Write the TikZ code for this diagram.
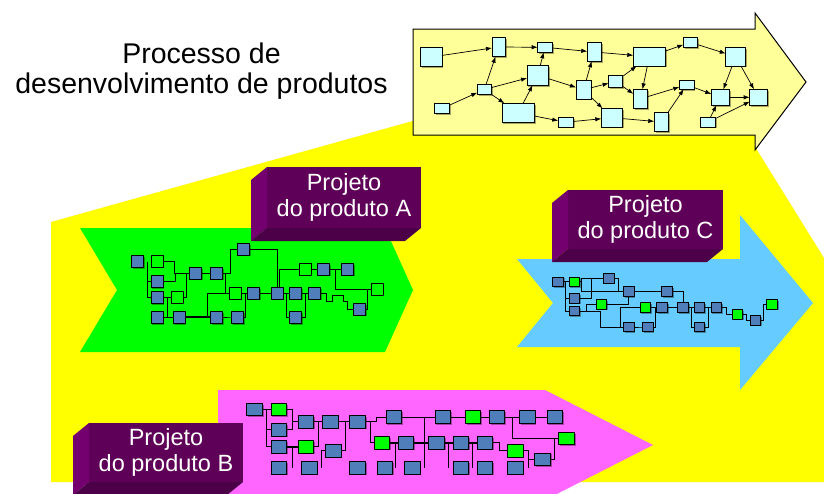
\documentclass[tikz,border=0pt]{standalone}
\usepackage{fontspec}
\setmainfont{Liberation Sans}
\usetikzlibrary{arrows.meta,calc,shadows}
\definecolor{bgyellow}{HTML}{FFFF00}
\definecolor{procfill}{HTML}{FFFF99}
\definecolor{cyanbox}{HTML}{CCFFFF}
\definecolor{arrA}{HTML}{00FF00}
\definecolor{arrC}{HTML}{66CCFF}
\definecolor{arrB}{HTML}{FF66FF}
\definecolor{boxblue}{HTML}{4F7EBA}
\definecolor{boxgreen}{HTML}{00FF00}
\definecolor{lblfront}{HTML}{5F0058}
\definecolor{lblside}{HTML}{740070}
\definecolor{lblbottom}{HTML}{4B0047}
\tikzset{
  pbox/.style={draw=black, fill=cyanbox, line width=0.8pt, inner sep=0pt, outer sep=0pt,
    drop shadow={shadow xshift=1.3pt, shadow yshift=-1.3pt, fill=black, opacity=0.35}},
  parr/.style={draw=black, line width=0.7pt, -{Latex[length=6pt,width=4.4pt]}},
  netbox/.style={draw=black, line width=0.9pt, inner sep=0pt, outer sep=0pt},
  bb/.style={netbox, fill=boxblue, drop shadow={shadow xshift=1.3pt, shadow yshift=-1.3pt, fill=black, opacity=0.35}},
  gb/.style={netbox, fill=boxgreen, drop shadow={shadow xshift=1.3pt, shadow yshift=-1.3pt, fill=black, opacity=0.35}},
  ob/.style={netbox, fill=arrA},
  wire/.style={draw=black, line width=0.8pt},
  heavy/.style={draw=black, line width=1.7pt},
  sizeA/.style={minimum width=12pt, minimum height=11.6pt},
  sizeB/.style={minimum width=15.6pt, minimum height=12.6pt},
  sizeC/.style={minimum width=10.7pt, minimum height=9.6pt},
  labelfront/.style={fill=lblfront, text=white, align=center, inner sep=0pt, outer sep=0pt,
    font=\fontsize{23.5}{26.5}\selectfont},
}
\begin{document}
\begin{tikzpicture}[x=1pt,y=-1pt]
\useasboundingbox (0,0) rectangle (824,493);
\clip (0,0) rectangle (824,493);
% big yellow region
\fill[bgyellow] (51,222) -- (470,105) -- (750,105) -- (757,150) -- (824,258) -- (824,482) -- (51,482) -- cycle;
% process arrow
\draw[fill=procfill, line width=1pt] (413,29) -- (755,29) -- (755,13) -- (806,82) -- (755,150) -- (755,135) -- (413,135) -- cycle;
% process boxes
\node[pbox, minimum width=21.3pt, minimum height=18.6pt] (p1) at (431.3,57) {};
\node[pbox, minimum width=13.7pt, minimum height=19.4pt] (p2) at (498.8,47) {};
\node[pbox, minimum width=14.6pt, minimum height=10pt] (p3) at (545,47.3) {};
\node[pbox, minimum width=14pt, minimum height=18.6pt] (p4) at (594.3,52) {};
\node[pbox, minimum width=32pt, minimum height=18.7pt] (p5) at (649.3,56.7) {};
\node[pbox, minimum width=14pt, minimum height=10pt] (p6) at (690.3,42.3) {};
\node[pbox, minimum width=20pt, minimum height=18.7pt] (p7) at (735.7,56.7) {};
\node[pbox, minimum width=14pt, minimum height=9.6pt] (p8) at (484.3,89.5) {};
\node[pbox, minimum width=14.6pt, minimum height=9.6pt] (p9) at (442,108.5) {};
\node[pbox, minimum width=21.3pt, minimum height=20pt] (p10) at (537.7,75.3) {};
\node[pbox, minimum width=32.3pt, minimum height=19pt] (p11) at (518.2,112.8) {};
\node[pbox, minimum width=15pt, minimum height=18.7pt] (p12) at (583.5,89.7) {};
\node[pbox, minimum width=14pt, minimum height=11.6pt] (p13) at (615.7,81.5) {};
\node[pbox, minimum width=15pt, minimum height=9.7pt] (p14) at (565.8,122.2) {};
\node[pbox, minimum width=21.4pt, minimum height=18.7pt] (p15) at (612,117.7) {};
\node[pbox, minimum width=14.4pt, minimum height=19pt] (p16) at (640.5,98.8) {};
\node[pbox, minimum width=14.4pt, minimum height=19.4pt] (p17) at (661.5,122) {};
\node[pbox, minimum width=14.7pt, minimum height=9pt] (p18) at (686.7,84.8) {};
\node[pbox, minimum width=18pt, minimum height=16pt] (p19) at (720.3,97.3) {};
\node[pbox, minimum width=17.6pt, minimum height=16pt] (p20) at (758.5,97.3) {};
\node[pbox, minimum width=14.6pt, minimum height=9.7pt] (p21) at (708,122.2) {};
\foreach \a/\b in {p1/p2,p2/p3,p3/p4,p4/p5,p5/p6,p6/p7,p7/p19,p7/p20,p9/p8,p8/p2,p8/p10,p8/p11,
  p10/p3,p11/p10,p10/p12,p11/p14,p14/p15,p12/p4,p12/p13,p12/p15,p13/p5,p13/p16,p5/p16,p15/p17,
  p16/p18,p17/p18,p18/p19,p19/p20,p21/p19,p21/p20}
  \draw[parr] (\a) -- (\b);
% title
\node[font=\fontsize{28.5}{30}\selectfont, align=center] (title) at (201.5,71) {Processo de\\desenvolvimento de produtos};
% coloured project arrows
\fill[arrA] (80,228) -- (385,228) -- (413,290) -- (385,352) -- (80,352) -- (117,290) -- cycle;
\fill[arrC] (517,259) -- (740,259) -- (740,215) -- (813,303) -- (740,390) -- (740,347) -- (517,347) -- (553,303) -- cycle;
\fill[arrB] (218,390) -- (545,390) -- (653,445) -- (545,500) -- (218,500) -- cycle;
% ---------- network A ----------
\draw[wire] (147.7,261.5) |- (157,297.5);
\draw[wire] (147.7,281.5) -- (157,281.5);
\draw[wire] (157,261.5) -- (174.3,261.5) |- (195.5,273.3);
\draw[wire] (157,281.5) -| (175.7,273.3);
\draw[wire] (186.7,273.3) |- (177,297.5);
\draw[wire] (157,297.5) -- (177,297.5);
\draw[wire] (157,317) -- (179,317);
\draw[wire] (167.3,297.5) -- (167.3,317);
\draw[heavy] (179,317) -- (216.5,317);
\draw[wire] (207,317) |- (235.3,293.3);
\draw[wire] (195.5,273.3) -- (216.5,273.3) -- (230.3,273.3) |- (243.5,249.3);
\draw[wire] (225.3,273.3) |- (235.3,293.3);
\draw[wire] (235.3,293.3) -- (277,293.3);
\draw[wire] (243.5,249.3) -| (277.3,293.3);
\draw[wire] (216.5,317) -- (237.5,317) -- (245.7,317) -- (245.7,293.3);
\draw[wire] (279.3,293.3) |- (305.3,269.2);
\draw[wire] (305.3,269.2) -- (347.2,269.2);
\draw[wire] (335,269.2) |- (377.5,289.3);
\draw[wire] (367.7,289.3) |- (359.2,309.2);
\draw[wire] (277,293.3) -- (314.5,293.3);
\draw[wire] (286,293.3) |- (295.8,317);
\draw[wire] (305,293.3) |- (295.8,317);
\draw[wire] (314.5,293.3) -- (326,293.3) -- (326,301) -- (332.7,301) -- (332.7,295.3) -- (343.7,295.3) -- (343.7,301) -- (347.7,301) |- (359.2,309.2);
\node[bb, sizeA] (a1) at (137.7,261.5) {};
\node[ob, sizeA] (a2) at (157,261.5) {};
\node[bb, sizeA] (a3) at (157,281.5) {};
\node[bb, sizeA] (a4) at (157,297.5) {};
\node[ob, sizeA] (a5) at (177,297.5) {};
\node[bb, sizeA] (a6) at (157,317.5) {};
\node[bb, sizeA] (a7) at (179,317.5) {};
\node[bb, sizeA] (a8) at (195.5,273.3) {};
\node[bb, sizeA] (a9) at (216.5,273.3) {};
\node[bb, sizeA] (a10) at (243.5,249.3) {};
\node[ob, sizeA] (a11) at (235.3,293.3) {};
\node[bb, sizeA] (a12) at (253.8,293.3) {};
\node[bb, sizeA] (a13) at (216.5,317.5) {};
\node[bb, sizeA] (a14) at (237.5,317.5) {};
\node[ob, sizeA] (a15) at (305.3,269.2) {};
\node[bb, sizeA] (a16) at (323.8,269.2) {};
\node[bb, sizeA] (a17) at (347.2,269.2) {};
\node[bb, sizeA] (a18) at (277,293.3) {};
\node[bb, sizeA] (a19) at (295.8,293.3) {};
\node[bb, sizeA] (a20) at (314.5,293.3) {};
\node[ob, sizeA] (a21) at (377.5,289.3) {};
\node[bb, sizeA] (a22) at (295.8,317.5) {};
\node[bb, sizeA] (a23) at (359.2,309.2) {};
% ---------- network C ----------
\draw[wire] (558,281.8) -- (581.7,281.8);
\draw[wire] (565.3,281.8) |- (574.5,311);
\draw[wire] (565.3,298.3) -- (574.5,298.3);
\draw[wire] (608.7,278.3) -| (581.7,291.5) -- (628.7,291.5);
\draw[wire] (574.5,298.3) -| (591.7,278.3);
\draw[wire] (608.7,278.3) -| (618.7,291.5);
\draw[wire] (628.7,291.5) -- (667,291.5) -| (683,307.7);
\draw[wire] (628.7,291.5) |- (601.3,304.3);
\draw[wire] (574.5,311) -| (600.7,327) -- (628.7,327);
\draw[wire] (586.7,311) |- (601.3,304.3);
\draw[wire] (620,327) |- (645.3,307.7);
\draw[wire] (628.7,327) -- (647.7,327) -| (655,307.7);
\draw[wire] (645.3,307.7) -- (716.3,307.7);
\draw[wire] (691.7,307.7) |- (699.3,327);
\draw[wire] (708.3,307.7) |- (699.3,327);
\draw[wire] (716.3,307.7) -| (726.7,314.3) -- (737.5,314.3);
\draw[wire] (737.5,314.3) -| (746.7,320.3) -- (755.3,320.3);
\draw[wire] (755.3,320.3) -| (763.3,304.3) -- (772,304.3);
\node[bb, sizeC] (c1) at (558,281.8) {};
\node[gb, sizeC] (c2) at (574.5,281.8) {};
\node[bb, sizeC] (c3) at (608.7,278.3) {};
\node[bb, sizeC] (c4) at (574.5,298.3) {};
\node[bb, sizeC] (c5) at (628.7,291.5) {};
\node[bb, sizeC] (c6) at (667,291.5) {};
\node[bb, sizeC] (c7) at (574.5,311) {};
\node[gb, sizeC] (c8) at (601.3,304.3) {};
\node[gb, sizeC] (c9) at (645.3,307.7) {};
\node[bb, sizeC] (c10) at (662,307.7) {};
\node[bb, sizeC] (c11) at (683,307.7) {};
\node[bb, sizeC] (c12) at (699.3,307.7) {};
\node[bb, sizeC] (c13) at (716.3,307.7) {};
\node[gb, sizeC] (c14) at (737.5,314.3) {};
\node[bb, sizeC] (c15) at (755.3,320.3) {};
\node[gb, sizeC] (c16) at (772,304.3) {};
\node[bb, sizeC] (c17) at (628.7,327) {};
\node[bb, sizeC] (c18) at (647.7,327) {};
\node[bb, sizeC] (c19) at (699.3,327) {};
% ---------- network B ----------
\draw[wire] (254.5,409.5) -- (278.8,409.5);
\draw[wire] (266.7,409.5) |- (278.8,446.8);
\draw[wire] (266.7,429.8) -- (278.8,429.8);
\draw[heavy] (278.8,446.8) -- (306,446.8);
\draw[wire] (278.8,409.5) -| (292.3,429.8) -- (278.8,429.8);
\draw[wire] (292.3,421.8) -- (330.3,421.8);
\draw[wire] (318.7,421.8) |- (306,446.8);
\draw[wire] (292.3,446.8) -- (292.3,467.7);
\draw[wire] (330.3,421.8) -- (357.7,421.8);
\draw[wire] (345.7,421.8) |- (333.3,450.8);
\draw[wire] (333.3,450.8) -| (321,467.7);
\draw[wire] (357.7,421.8) -- (376,421.8) |- (393.8,417.2);
\draw[wire] (370,421.8) |- (382,442.8);
\draw[wire] (393.8,417.2) -- (442.8,417.2);
\draw[heavy] (382,442.8) -- (485,442.8);
\draw[wire] (395.7,442.8) -- (395.7,467.7);
\draw[wire] (424,417.2) -- (424,467.7);
\draw[wire] (448.3,442.8) -- (448.3,467.7);
\draw[wire] (472.7,442.8) -- (472.7,467.7);
\draw[wire] (442.8,417.2) -- (554.8,417.2);
\draw[wire] (512,417.2) |- (566.7,438.5);
\draw[wire] (485,442.8) -| (499.3,450.8) -- (515.2,450.8);
\draw[wire] (515.2,450.8) -| (528.3,467.7);
\draw[wire] (528.3,459.3) -- (542.7,459.3);
\draw[wire] (542.7,459.3) -| (554.7,438.5) -- (566.7,438.5);
\node[bb, sizeB] (b1) at (254.5,409.5) {};
\node[gb, sizeB] (b2) at (278.8,409.5) {};
\node[bb, sizeB] (b3) at (278.8,429.8) {};
\node[bb, sizeB] (b4) at (278.8,446.8) {};
\node[gb, sizeB] (b5) at (306,446.8) {};
\node[bb, sizeB] (b6) at (306,421.8) {};
\node[bb, sizeB] (b7) at (330.3,421.8) {};
\node[bb, sizeB] (b8) at (357.7,421.8) {};
\node[bb, sizeB] (b9) at (393.8,417.2) {};
\node[bb, sizeB] (b10) at (333.3,450.8) {};
\node[gb, sizeB] (b11) at (382,442.8) {};
\node[bb, sizeB] (b12) at (406,442.8) {};
\node[bb, sizeB] (b13) at (442.8,417.2) {};
\node[gb, sizeB] (b14) at (473,417.2) {};
\node[bb, sizeB] (b15) at (497,417.2) {};
\node[bb, sizeB] (b16) at (527.2,417.2) {};
\node[bb, sizeB] (b17) at (554.8,417.2) {};
\node[bb, sizeB] (b18) at (436.5,442.8) {};
\node[bb, sizeB] (b19) at (460.8,442.8) {};
\node[bb, sizeB] (b20) at (485,442.8) {};
\node[gb, sizeB] (b21) at (515.2,450.8) {};
\node[bb, sizeB] (b22) at (542.7,459.3) {};
\node[gb, sizeB] (b23) at (566.7,438.5) {};
\foreach \xx [count=\i] in {278.8,309.3,357.7,385,412.2,460.8,485,515.2}
  \node[bb, sizeB] (r\i) at (\xx,467.7) {};
% ---------- 3D labels ----------
\node[labelfront, minimum width=154pt, minimum height=61pt] (labA) at (344,197.5) {Projeto\\do produto A};
\fill[lblside] (labA.north west) -- ++(-16,13) -- ($(labA.south west)+(-16,13)$) -- (labA.south west) -- cycle;
\fill[lblbottom] (labA.south west) -- ++(-16,13) -- ($(labA.south east)+(-16,13)$) -- (labA.south east) -- cycle;
\node[labelfront, minimum width=155pt, minimum height=59pt] (labC) at (645.5,219.5) {Projeto\\do produto C};
\fill[lblside] (labC.north west) -- ++(-16,13) -- ($(labC.south west)+(-16,13)$) -- (labC.south west) -- cycle;
\fill[lblbottom] (labC.south west) -- ++(-16,13) -- ($(labC.south east)+(-16,13)$) -- (labC.south east) -- cycle;
\node[labelfront, minimum width=154pt, minimum height=59pt] (labB) at (166,452.5) {Projeto\\do produto B};
\fill[lblside] (labB.north west) -- ++(-16,13) -- ($(labB.south west)+(-16,13)$) -- (labB.south west) -- cycle;
\fill[lblbottom] (labB.south west) -- ++(-16,13) -- ($(labB.south east)+(-16,13)$) -- (labB.south east) -- cycle;
\end{tikzpicture}
\end{document}
